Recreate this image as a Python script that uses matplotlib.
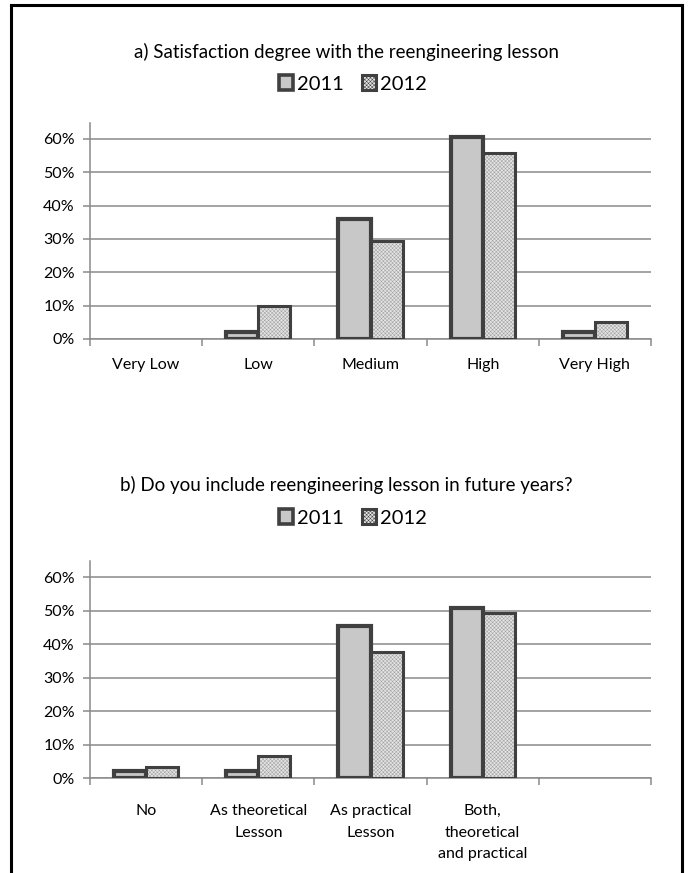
import numpy as np
import matplotlib
matplotlib.use('Agg')
import matplotlib.pyplot as plt
from matplotlib.patches import Patch
from matplotlib.lines import Line2D
from matplotlib.ticker import PercentFormatter

plt.rcParams['font.family'] = ['Lato', 'DejaVu Sans']
plt.rcParams['hatch.linewidth'] = 0.35

# data
cats_a = ['Very Low', 'Low', 'Medium', 'High', 'Very High']
a_2011 = [0.0, 0.02, 0.36, 0.605, 0.02]
a_2012 = [0.0, 0.10, 0.295, 0.558, 0.05]

cats_b = ['No', 'As theoretical\nLesson', 'As practical\nLesson',
          'Both,\ntheoretical\nand practical', '']
b_2011 = [0.02, 0.02, 0.453, 0.509, np.nan]
b_2012 = [0.033, 0.065, 0.375, 0.492, np.nan]

years = ['2011', '2012']
yticks = [0, 0.1, 0.2, 0.3, 0.4, 0.5, 0.6]

W, H = 688, 873
fig = plt.figure(figsize=(W / 100, H / 100), dpi=100)

EDGE = '#404040'
FILL11 = '#c8c8c8'
FILL12 = '#e4e4e4'
HATCH = '#a0a0a0'
HP = 'xxxxxxxxx'


def px_axes(x0, x1, ytop, ybot):
    return fig.add_axes([x0 / W, 1 - ybot / H, (x1 - x0) / W, (ybot - ytop) / H])


def draw(ax, cats, v11, v12, pad):
    x = np.arange(len(cats)) + 0.5
    bw = 0.286
    # zero values draw nothing in the original
    v11 = np.array(v11, dtype=float)
    v12 = np.array(v12, dtype=float)
    v11[v11 == 0] = np.nan
    v12[v12 == 0] = np.nan
    ax.set_axisbelow(True)
    ax.grid(axis='y', color='#8a8a8a', linewidth=1.1)
    ax.bar(x - bw / 2, v11, bw, color=FILL11, edgecolor=EDGE, linewidth=3.0, zorder=3)
    # hatched fill, then outline on top
    ax.bar(x + bw / 2, v12, bw, color=FILL12, edgecolor=HATCH, hatch=HP,
           linewidth=0, zorder=3)
    ax.bar(x + bw / 2, v12, bw, fill=False, edgecolor=EDGE, linewidth=2.2, zorder=4)
    ax.set_xlim(0, len(cats))
    ax.set_ylim(0, 0.648)
    ax.set_yticks(yticks)
    ax.yaxis.set_major_formatter(PercentFormatter(1.0, decimals=0))
    ax.set_xticks(np.arange(len(cats) + 1))
    ax.set_xticklabels([])
    ax.set_xticks(x, minor=True)
    ax.set_xticklabels(cats, minor=True, fontsize=11.5, linespacing=1.65)
    ax.tick_params(axis='x', which='minor', length=0, pad=pad)
    ax.tick_params(axis='x', which='major', length=5, color='#8a8a8a', width=1.1)
    ax.tick_params(axis='y', length=5, color='#8a8a8a', width=1.1, labelsize=11.5, pad=6)
    for side in ['top', 'right']:
        ax.spines[side].set_visible(False)
    for side in ['left', 'bottom']:
        ax.spines[side].set_color('#8a8a8a')
        ax.spines[side].set_linewidth(1.1)


def legend_at(y):
    handles = [Patch(facecolor=FILL11, edgecolor=EDGE, linewidth=2.6),
               Patch(facecolor=FILL12, edgecolor=EDGE, linewidth=2.2, hatch=HP)]
    leg = fig.legend(handles, years, loc='center', bbox_to_anchor=(353 / W, 1 - y / H),
                     ncol=2, frameon=False, fontsize=14.5, handlelength=0.7,
                     handleheight=0.7, handletextpad=0.2, columnspacing=0.9)
    return leg


ax1 = px_axes(90, 651, 123, 339)
draw(ax1, cats_a, a_2011, a_2012, pad=14)
fig.text(346 / W, 1 - 52 / H, 'a) Satisfaction degree with the reengineering lesson',
         ha='center', va='center', fontsize=13.5)
legend_at(84)

ax2 = px_axes(90, 651, 561, 778)
draw(ax2, cats_b, b_2011, b_2012, pad=19)
fig.text(346 / W, 1 - 485 / H, 'b) Do you include reengineering lesson in future years?',
         ha='center', va='center', fontsize=13.5)
legend_at(518)

# outer frame (bottom edge is cut off)
bx0, bx1, by0 = 11 / W, 682 / W, 1 - 5 / H
for xs, ys in [([bx0, bx0], [0, by0]), ([bx0, bx1], [by0, by0]), ([bx1, bx1], [by0, 0])]:
    fig.add_artist(Line2D(xs, ys, color='black', linewidth=2.2))

fig.savefig('out.png', dpi=100)
